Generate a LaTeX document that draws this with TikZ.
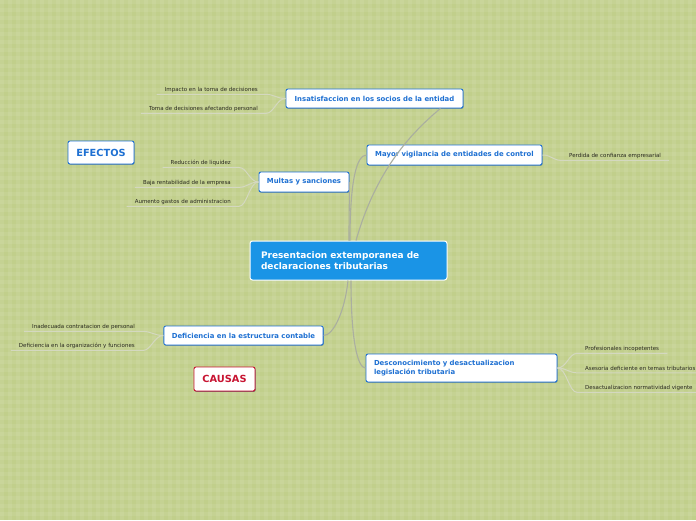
\documentclass[tikz,border=0pt]{standalone}
\usepackage{fontspec}
\setmainfont{DejaVu Sans}
\usepackage{tikz}
\usetikzlibrary{
  positioning,
  shadows
}
\definecolor{fieldgreen}{RGB}{193,207,139}
\definecolor{hubblue}{RGB}{26,148,230}
\definecolor{topicblue}{RGB}{30,112,210}
\definecolor{causered}{RGB}{200,20,50}
\definecolor{branchgray}{RGB}{170,174,160}
\definecolor{twiggray}{RGB}{212,216,192}
\definecolor{leafink}{RGB}{40,40,30}
\tikzset{
  hub/.style={fill=hubblue,draw=white,line width=1pt,rounded corners=2.5pt,
    text=white,font=\fontsize{9}{11}\selectfont\bfseries,align=left,
    text width=175pt,minimum width=197pt,minimum height=39pt,inner xsep=11pt},
  topic/.style={fill=white,draw=topicblue,line width=0.9pt,rounded corners=2pt,
    text=topicblue,font=\fontsize{6.9}{8.6}\selectfont\bfseries,
    minimum height=19pt,inner xsep=8pt,
    drop shadow={shadow xshift=0.6pt,shadow yshift=-0.8pt,
      fill=topicblue!70!black,opacity=0.5}},
  tag/.style={topic,font=\fontsize{9.8}{11}\selectfont\bfseries,minimum height=23pt},
  causetag/.style={tag,draw=causered,text=causered,
    drop shadow={shadow xshift=0.6pt,shadow yshift=-0.8pt,
      fill=causered!70!black,opacity=0.5}},
  leaf/.style={font=\fontsize{5.5}{6.5}\selectfont,text=leafink,
    inner xsep=8pt,inner ysep=2pt},
  branch/.style={draw=branchgray,line width=1.1pt},
  twig/.style={draw=twiggray,line width=1pt}
}

\begin{document}
\begin{tikzpicture}[x=1pt,y=-1pt]
  \useasboundingbox (0,0) rectangle (696,520);
  % plaid background
  \fill[fieldgreen] (0,0) rectangle (696,520);
  \foreach \k in {0,8,...,696}
    \fill[white,opacity=0.07] (\k,0) rectangle ++(4,520);
  \foreach \k in {0,8,...,520}
    \fill[white,opacity=0.07] (0,\k) rectangle ++(696,4);

  \node[hub] (hub) at (348.5,260.5) {
    Presentacion extemporanea de\\declaraciones tributarias};

  \node[topic,minimum width=177pt] (insat) at (374.5,98.5) {
    Insatisfaccion en los socios de la entidad};
  \node[topic,minimum width=175pt,minimum height=20pt] (vigil) at (454.5,155) {
    Mayor vigilancia de entidades de control};
  \node[topic,minimum width=90pt,minimum height=20pt] (multas) at (304,182) {
    Multas y sanciones};
  \node[topic,minimum width=159pt] (estruct) at (243.5,335.5) {
    Deficiencia en la estructura contable};
  \node[topic,minimum width=191pt,minimum height=28pt,align=left,
    text width=175pt] (descon) at (461.5,368) {
    Desconocimiento y desactualizacion\\legislación tributaria};

  \node[tag,minimum width=66pt] (efectos) at (101,152.5) {EFECTOS};
  \node[causetag,minimum width=61pt,minimum height=24pt] (causas) at (224.5,379) {CAUSAS};

  % leaves
  \node[leaf,anchor=east] (impacto) at (266,89.5) {Impacto en la toma de decisiones};
  \node[leaf,anchor=east] (toma) at (266,108.5) {Toma de decisiones afectando personal};
  \node[leaf,anchor=east] (liquidez) at (239,162.5) {Reducción de liquidez};
  \node[leaf,anchor=east] (rentab) at (239,182.5) {Baja rentabilidad de la empresa};
  \node[leaf,anchor=east] (gastos) at (239,201.5) {Aumento gastos de administracion};
  \node[leaf,anchor=west] (confianza) at (561,155.5) {Perdida de confianza empresarial};
  \node[leaf,anchor=east] (contrata) at (143,326.5) {Inadecuada contratacion de personal};
  \node[leaf,anchor=east] (organiza) at (143,345.5) {Deficiencia en la organización y funciones};
  \node[leaf,anchor=west] (profes) at (577,348.5) {Profesionales incopetentes};
  \node[leaf,anchor=west] (asesoria) at (577,368.5) {Asesoria deficiente en temas tributarios};
  \node[leaf,anchor=west] (normas) at (577,387.5) {Desactualizacion normatividad vigente};

  % branches from the hub
  \draw[branch] ([xshift=0.5pt]hub.north) .. controls +(0,-30) and +(0,20) .. (multas.east);
  \draw[branch] ([xshift=1.5pt]hub.north) .. controls +(0,-60) and +(-10,0) .. (vigil.west);
  \draw[branch] ([xshift=7.5pt]hub.north) .. controls +(20,-70) and +(-30,25) .. ([xshift=-23pt]insat.south east);
  \draw[branch] ([xshift=-0.5pt]hub.south) .. controls +(-3,30) and +(10,0) .. (estruct.east);
  \draw[branch] ([xshift=2.5pt]hub.south) .. controls +(0,60) and +(-8,0) .. (descon.west);

  % twigs to the leaves
  \foreach \lf/\tp in {impacto/insat,toma/insat,liquidez/multas,rentab/multas,
      gastos/multas,contrata/estruct,organiza/estruct}
    \draw[twig] (\tp.west) .. controls +(-9,0) and +(8,0) .. (\lf.south east)
      -- (\lf.south west);
  \foreach \lf/\tp in {confianza/vigil,profes/descon,asesoria/descon,normas/descon}
    \draw[twig] (\tp.east) .. controls +(9,0) and +(-8,0) .. (\lf.south west)
      -- (\lf.south east);
\end{tikzpicture}
\end{document}
